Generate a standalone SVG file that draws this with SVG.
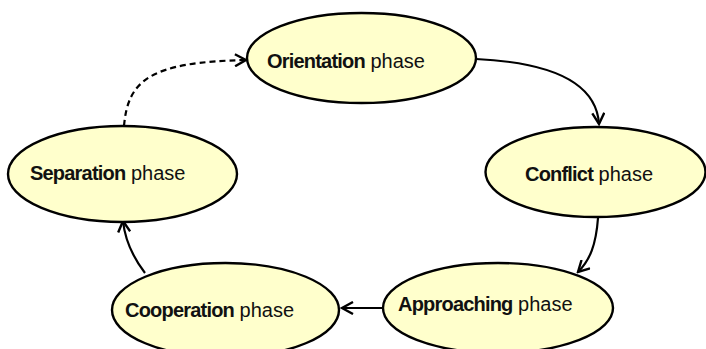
<svg xmlns="http://www.w3.org/2000/svg" width="706" height="349" viewBox="0 0 706 349">
<defs>
<style>
.node ellipse{fill:#FFFFCC;stroke:#000;stroke-width:2.4}
.node text{font-family:"Liberation Sans",Arial,sans-serif;font-size:20px;fill:#111}
.b{font-weight:bold;letter-spacing:-0.8px}
.edge{fill:none;stroke:#000;stroke-width:2.2}
.dash{stroke-dasharray:6,4}
</style>
<marker id="arr" viewBox="0 0 14 14" refX="12" refY="7" markerWidth="14" markerHeight="14" markerUnits="userSpaceOnUse" orient="auto">
<path d="M1,1 L12,7 L1,13" fill="none" stroke="#000" stroke-width="2.4"/>
</marker>
</defs>
<rect width="706" height="349" fill="#fff"/>
<g id="connectors">
<path class="edge" d="M476,59 C540,62 596,78 599,124" marker-end="url(#arr)"/>
<path class="edge" d="M598,218 C596,245 590,260 578,272" marker-end="url(#arr)"/>
<path class="edge" d="M383,308 L342,308" marker-end="url(#arr)"/>
<path class="edge" d="M145,273 C132,256 125,240 123,221" marker-end="url(#arr)"/>
<path class="edge dash" d="M124,126 C128,80 150,62 246,60" marker-end="url(#arr)"/>
</g>
<g id="orientation" class="node">
<ellipse cx="361.5" cy="58" rx="114.5" ry="45"/>
<text x="267" y="68"><tspan class="b">Orientation</tspan> phase</text>
</g>
<g id="conflict" class="node">
<ellipse cx="595.5" cy="172" rx="110" ry="45"/>
<text x="525" y="181"><tspan class="b">Conflict</tspan> phase</text>
</g>
<g id="approaching" class="node">
<ellipse cx="498" cy="308" rx="115" ry="45"/>
<text x="398" y="311"><tspan class="b">Approaching</tspan> phase</text>
</g>
<g id="cooperation" class="node">
<ellipse cx="225.5" cy="310" rx="113.5" ry="47"/>
<text x="125" y="317"><tspan class="b">Cooperation</tspan> phase</text>
</g>
<g id="separation" class="node">
<ellipse cx="122.5" cy="174" rx="114.5" ry="48"/>
<text x="30" y="180"><tspan class="b">Separation</tspan> phase</text>
</g>
</svg>
